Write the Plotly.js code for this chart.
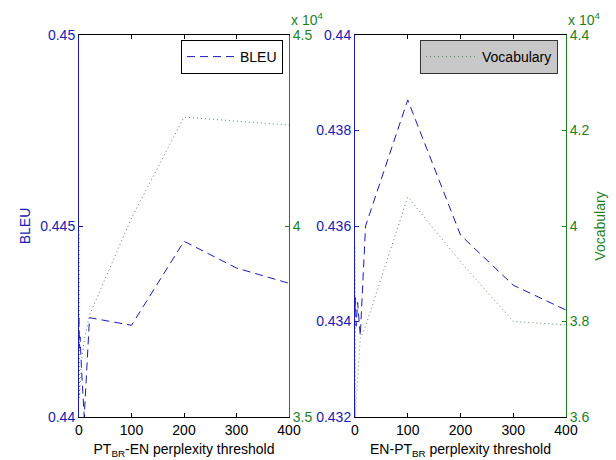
<!DOCTYPE html>
<html>
<head>
<meta charset="utf-8">
<script src="https://cdn.plot.ly/plotly-3.0.1.min.js"></script>
<style>html,body{margin:0;padding:0;background:#fff;}#chart{width:616px;height:460px;}</style>
</head>
<body>
<div id="chart"></div>
<script>
// Perplexity thresholds
const thresholds = [0, 1, 2, 5, 10, 20, 100, 200, 300, 400];
// Left panel: PT_BR-EN
const bleuPtEn  = [0.4426, 0.4418, 0.4421, 0.4412, 0.4400, 0.4426, 0.4424, 0.4446, 0.4439, 0.4435];
const vocabPtEn = [40000, 35500, 35800, 36500, 37000, 37670, 40210, 42850, 42750, 42640];
// Right panel: EN-PT_BR
const bleuEnPt  = [0.4342, 0.4345, 0.4339, 0.4344, 0.4337, 0.4360, 0.43864, 0.43581, 0.43476, 0.43424];
const vocabEnPt = [39550, 36000, 36300, 36800, 37650, 37900, 40610, 39250, 38000, 37930];
// Tick labels
const xTicks = [0, 100, 200, 300, 400];
const bleuTicksL = [0.44, 0.445, 0.45];
const bleuTickTextL = ['0.44', '0.445', '0.45'];
const vocabTicksL = [35000, 40000, 45000];
const vocabTickTextL = ['3.5', '4', '4.5'];
const bleuTicksR = [0.432, 0.434, 0.436, 0.438, 0.44];
const bleuTickTextR = ['0.432', '0.434', '0.436', '0.438', '0.44'];
const vocabTicksR = [36000, 38000, 40000, 42000, 44000];
const vocabTickTextR = ['3.6', '3.8', '4', '4.2', '4.4'];

const BLUE = '#1a1ab4';
const GREEN = '#1f801f';
const VOC = '#5a8a5a';
const FONT = 'Liberation Sans, Arial, sans-serif';
const FS = 14;

const traces = [
  {x: thresholds, y: bleuPtEn, xaxis: 'x', yaxis: 'y', mode: 'lines', name: 'BLEU',
   line: {color: BLUE, width: 1, dash: '8px,5px'}, legend: 'legend', showlegend: true},
  {x: thresholds, y: vocabPtEn, xaxis: 'x', yaxis: 'y2', mode: 'lines', name: 'Vocabulary',
   line: {color: VOC, width: 1, dash: '1px,3px'}, showlegend: false},
  {x: thresholds, y: bleuEnPt, xaxis: 'x2', yaxis: 'y3', mode: 'lines', name: 'BLEU',
   line: {color: BLUE, width: 1, dash: '8px,5px'}, showlegend: false},
  {x: thresholds, y: vocabEnPt, xaxis: 'x2', yaxis: 'y4', mode: 'lines', name: 'Vocabulary',
   line: {color: VOC, width: 1, dash: '1px,3px'}, legend: 'legend2', showlegend: true}
];

const yDom = [1 - 417/460, 1 - 35/460];
const xAx = (dom, anchor, title) => ({
  domain: dom, anchor: anchor, range: [0, 400], tickvals: xTicks, ticks: 'inside', ticklen: 4,
  tickcolor: '#000', showline: true, linecolor: '#000', linewidth: 1, mirror: 'ticks',
  showgrid: false, zeroline: false, automargin: false,
  tickfont: {family: FONT, size: FS, color: '#000'},
  title: {text: title, font: {family: FONT, size: FS, color: '#000'}, standoff: 7}
});
const yAx = (anchor, range, vals, txt, color, side, overlay, title, standoff) => {
  const a = {
    domain: yDom, anchor: anchor, range: range, tickvals: vals, ticktext: txt,
    ticks: 'inside', ticklen: 4, tickcolor: color, showline: true, linecolor: color, linewidth: 1,
    showgrid: false, zeroline: false, automargin: false, side: side,
    tickfont: {family: FONT, size: FS, color: color}
  };
  if (overlay) a.overlaying = overlay;
  if (title) a.title = {text: title, font: {family: FONT, size: FS, color: color}, standoff: standoff};
  return a;
};

const layout = {
  width: 616, height: 460,
  margin: {l: 0, r: 0, t: 0, b: 0},
  paper_bgcolor: '#fff', plot_bgcolor: '#fff',
  font: {family: FONT, size: FS},
  xaxis: xAx([79/616, 289/616], 'y', 'PT<sub>BR</sub>-EN perplexity threshold'),
  xaxis2: xAx([355/616, 566/616], 'y3', 'EN-PT<sub>BR</sub> perplexity threshold'),
  yaxis: yAx('x', [0.44, 0.45], bleuTicksL, bleuTickTextL, BLUE, 'left', null, 'BLEU', 6),
  yaxis2: yAx('x', [35000, 45000], vocabTicksL, vocabTickTextL, GREEN, 'right', 'y', null),
  yaxis3: yAx('x2', [0.432, 0.44], bleuTicksR, bleuTickTextR, BLUE, 'left', null, null),
  yaxis4: yAx('x2', [36000, 44000], vocabTicksR, vocabTickTextR, GREEN, 'right', 'y3', 'Vocabulary', 6),
  legend: {x: 283/616, xanchor: 'right', y: 1 - 40/460, yanchor: 'top', bgcolor: '#fff',
           bordercolor: '#000', borderwidth: 1, itemwidth: 48,
           font: {family: FONT, size: FS, color: '#000'}},
  legend2: {x: 558/616, xanchor: 'right', y: 1 - 40/460, yanchor: 'top', bgcolor: '#c8c8c8',
           bordercolor: '#333', borderwidth: 1, itemwidth: 51,
           font: {family: FONT, size: FS, color: '#000'}},
  annotations: [
    {xref: 'paper', yref: 'paper', x: 289/616, y: 1 - 30/460, xanchor: 'left', yanchor: 'bottom',
     text: 'x 10<sup>4</sup>', showarrow: false, font: {family: FONT, size: FS, color: GREEN}},
    {xref: 'paper', yref: 'paper', x: 566/616, y: 1 - 30/460, xanchor: 'left', yanchor: 'bottom',
     text: 'x 10<sup>4</sup>', showarrow: false, font: {family: FONT, size: FS, color: GREEN}}
  ]
};

Plotly.newPlot('chart', traces, layout, {displayModeBar: false, staticPlot: true});
</script>
</body>
</html>
